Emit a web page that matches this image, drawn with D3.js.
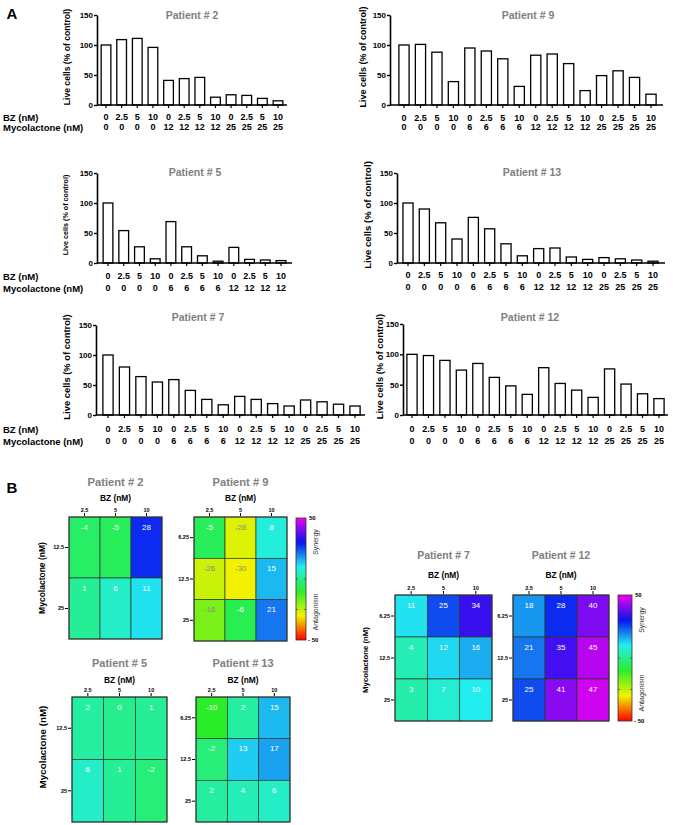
<!DOCTYPE html>
<html><head><meta charset="utf-8">
<script src="https://cdn.jsdelivr.net/npm/d3@7"></script>
<style>body{margin:0;background:#fff} text{font-family:Arial,"Liberation Sans",sans-serif}</style>
</head><body><svg id="c" width="673" height="825"></svg>
<script>
// ---------- data ----------
const bz12 = ["0","2.5","5","10","0","2.5","5","10","0","2.5","5","10"];
const bz16 = ["0","2.5","5","10","0","2.5","5","10","0","2.5","5","10","0","2.5","5","10"];
const mycoP2 = ["0","0","0","0","12","12","12","12","25","25","25","25"];
const mycoP5 = ["0","0","0","0","6","6","6","6","12","12","12","12"];
const myco16 = ["0","0","0","0","6","6","6","6","12","12","12","12","25","25","25","25"];
const liveP2 = [100,109,111,96,41,44,46,13,17,16,11,7];
const liveP9 = [100,101,88,39,95,90,77,31,83,85,69,24,49,57,46,18];
const liveP5 = [100,54,27,7,69,27,12,3,26,6,5,4];
const liveP13 = [100,90,67,40,76,57,32,12,24,25,10,6,9,7,5,3];
const liveP7 = [100,80,64,55,59,41,26,17,31,26,19,15,25,22,18,15];
const liveP12 = [100,98,90,74,85,62,48,34,78,52,41,29,76,51,35,27];
const yTickVals = [0,50,100,150];

const bzHeat = ["2.5","5","10"];
const mycoRows2 = ["12.5","25"];
const mycoRows3 = ["6.25","12.5","25"];
const synP2 = [-4,-5,28, 1,6,11];
const synP9 = [-5,-28,8, -26,-30,15, -18,-6,21];
const synP5 = [2,0,1, 6,1,-2];
const synP13 = [-10,2,15, -2,13,17, 2,4,6];
const synP7 = [11,25,34, 4,12,16, 3,7,10];
const synP12 = [18,28,40, 21,35,45, 25,41,47];
const colorStops = [-50,-30,-10,10,30,50];
const colorVals = ["#ff0000","#f2f200","#2aee2a","#22eef0","#0a14f0","#f000f0"];

// ---------- setup ----------
const svg = d3.select("#c");
const color = d3.scaleLinear().domain(colorStops).range(colorVals);
const GRAY = "#808080";

function txt(g, x, y, s, o = {}) {
  const t = g.append("text").attr("x", x).attr("y", y).text(s)
    .attr("dominant-baseline", "central")
    .attr("text-anchor", o.anchor || "middle")
    .attr("font-size", o.size || 9)
    .attr("font-weight", o.weight || "bold")
    .attr("fill", o.fill || "#000");
  if (o.rot) t.attr("transform", `rotate(${o.rot},${x},${y})`);
  return t;
}

txt(svg, 12, 13, "A", {size: 15, anchor: "middle"});
txt(svg, 12, 487, "B", {size: 15, anchor: "middle"});

function barChart(c) {
  const g = svg.append("g");
  const n = c.vals.length;
  const step = (c.last - c.first) / (n - 1);
  const x = d3.scaleBand().domain(d3.range(n))
    .range([c.first - step / 2, c.last + step / 2])
    .paddingInner(0.38).paddingOuter(0.19);
  const y = d3.scaleLinear().domain([0, 150]).range([c.y0, c.y150]);

  g.selectAll("rect.bar").data(c.vals).join("rect").attr("class", "bar")
    .attr("x", (d, i) => x(i)).attr("width", x.bandwidth())
    .attr("y", d => y(d)).attr("height", d => c.y0 - y(d))
    .attr("fill", "#fff").attr("stroke", "#000").attr("stroke-width", 1.3);

  const ya = g.append("g").attr("transform", `translate(${c.axisX},0)`)
    .call(d3.axisLeft(y).tickValues(yTickVals).tickSize(3).tickSizeOuter(0));
  ya.select(".domain").attr("stroke-width", 1.6);
  ya.selectAll(".tick line").attr("stroke-width", 1.4);
  ya.selectAll(".tick text").attr("font-size", 8).attr("font-weight", "bold")
    .attr("font-family", "Arial, Liberation Sans").attr("x", -4);

  const xa = g.append("g").attr("transform", `translate(0,${c.y0})`)
    .call(d3.axisBottom(x).tickSize(3).tickSizeOuter(0).tickFormat(""));
  xa.select(".domain").attr("d", `M${c.axisX},0H${c.end}`).attr("stroke-width", 1.6);
  xa.selectAll(".tick line").attr("stroke-width", 1.2);

  c.vals.forEach((v, i) => {
    const cx = x(i) + x.bandwidth() / 2;
    txt(g, cx, c.row1, c.bz[i], {size: 9});
    txt(g, cx, c.row2, c.myco[i], {size: 9});
  });
  if (c.rowLabels) {
    txt(g, 3, c.row1, "BZ (nM)", {size: 9.5, anchor: "start"});
    txt(g, 3, c.row2, "Mycolactone (nM)", {size: 9.5, anchor: "start"});
  }
  txt(g, c.titleX, c.titleY, c.title, {size: 10.5, fill: GRAY});
  txt(g, c.ylabX, (c.y0 + c.y150) / 2 - 3, "Live cells (% of control)", {size: c.ylabSize, rot: -90});
}

barChart({vals: liveP2, bz: bz12, myco: mycoP2, axisX: 97, y0: 105, y150: 15, first: 106, last: 278, end: 287,
  title: "Patient # 2", titleX: 192, titleY: 15, ylabX: 67, ylabSize: 8.6, row1: 117, row2: 127, rowLabels: true});
barChart({vals: liveP9, bz: bz16, myco: myco16, axisX: 390, y0: 105, y150: 15, first: 404, last: 651, end: 663,
  title: "Patient # 9", titleX: 528, titleY: 15, ylabX: 363, ylabSize: 9, row1: 118, row2: 127});
barChart({vals: liveP5, bz: bz12, myco: mycoP5, axisX: 97, y0: 263, y150: 173, first: 108, last: 281, end: 292,
  title: "Patient # 5", titleX: 195, titleY: 172, ylabX: 65, ylabSize: 7.2, row1: 276, row2: 288, rowLabels: true});
barChart({vals: liveP13, bz: bz16, myco: myco16, axisX: 397, y0: 263, y150: 173, first: 408, last: 653, end: 665,
  title: "Patient # 13", titleX: 532, titleY: 172, ylabX: 367, ylabSize: 9.6, row1: 275, row2: 287});
barChart({vals: liveP7, bz: bz16, myco: myco16, axisX: 96, y0: 415, y150: 325, first: 108, last: 355, end: 365,
  title: "Patient # 7", titleX: 198, titleY: 317, ylabX: 66, ylabSize: 9.4, row1: 429, row2: 441, rowLabels: true});
barChart({vals: liveP12, bz: bz16, myco: myco16, axisX: 403, y0: 415, y150: 324, first: 412, last: 659, end: 668,
  title: "Patient # 12", titleX: 530, titleY: 317, ylabX: 379, ylabSize: 9.4, row1: 429, row2: 441});

// ---------- heatmaps ----------
function heatmap(c) {
  const g = svg.append("g");
  const x = d3.scaleBand().domain(bzHeat).range([c.x0, c.x1]);
  const y = d3.scaleBand().domain(c.rows).range([c.yTop, c.yBot]);
  const cells = [];
  c.rows.forEach((r, ri) => bzHeat.forEach((b, bi) => cells.push({r, b, v: c.vals[ri * 3 + bi]})));
  g.selectAll("rect").data(cells).join("rect")
    .attr("x", d => x(d.b)).attr("y", d => y(d.r))
    .attr("width", x.bandwidth()).attr("height", y.bandwidth())
    .attr("fill", d => color(d.v)).attr("stroke", "#2a3a2a").attr("stroke-width", 0.7);
  g.append("rect").attr("x", c.x0).attr("y", c.yTop).attr("width", c.x1 - c.x0).attr("height", c.yBot - c.yTop)
    .attr("fill", "none").attr("stroke", "#333").attr("stroke-width", 1);
  cells.forEach(d => {
    txt(g, x(d.b) + x.bandwidth() / 2, y(d.r) + 10, d.v, {size: 8, weight: "normal",
      fill: d.v < -15 ? "#8a8a8a" : "#fff"});
  });
  const ta = g.append("g").attr("transform", `translate(0,${c.yTop - 1})`)
    .call(d3.axisTop(x).tickSize(3).tickSizeOuter(0));
  ta.select(".domain").remove();
  ta.selectAll(".tick text").attr("font-size", 5.5).attr("font-weight", "bold").attr("y", -4);
  const la = g.append("g").attr("transform", `translate(${c.x0 - 1},0)`)
    .call(d3.axisLeft(y).tickSize(3).tickSizeOuter(0));
  la.select(".domain").remove();
  la.selectAll(".tick text").attr("font-size", 5.5).attr("font-weight", "bold").attr("x", -4);
  txt(g, (c.x0 + c.x1) / 2, c.titleY, c.title, {size: c.titleSize, fill: GRAY});
  txt(g, (c.x0 + c.x1) / 2, c.bzY, "BZ (nM)", {size: 8.4});
  if (c.mycoX) txt(g, c.mycoX, c.mycoY, "Mycolactone (nM)", {size: c.mycoSize, rot: -90});
}

function colorBar(c) {
  const g = svg.append("g");
  const id = "grad" + c.id;
  const lg = svg.append("defs").append("linearGradient").attr("id", id)
    .attr("x1", 0).attr("x2", 0).attr("y1", 1).attr("y2", 0);
  colorStops.forEach((s, i) => lg.append("stop").attr("offset", (s + 50) / 100).attr("stop-color", colorVals[i]));
  g.append("rect").attr("x", c.x0).attr("y", c.y0).attr("width", c.x1 - c.x0).attr("height", c.y1 - c.y0)
    .attr("fill", `url(#${id})`).attr("stroke", "#333").attr("stroke-width", 0.8);
  const s = d3.scaleLinear().domain([-50, 50]).range([c.y1, c.y0]);
  [-25, 0, 25].forEach(v => {
    g.append("line").attr("x1", c.x0).attr("x2", c.x0 + 2).attr("y1", s(v)).attr("y2", s(v)).attr("stroke", "#333").attr("stroke-width", 0.6);
    g.append("line").attr("x1", c.x1 - 2).attr("x2", c.x1).attr("y1", s(v)).attr("y2", s(v)).attr("stroke", "#333").attr("stroke-width", 0.6);
  });
  txt(g, c.x1 + 3, s(50), "50", {size: 6, anchor: "start"});
  txt(g, c.x1 + 2, s(-50), "- 50", {size: 6, anchor: "start"});
  txt(g, c.x1 + 9, c.synY, "Synergy", {size: 7, weight: "normal", rot: -90, fill: "#333"});
  txt(g, c.x1 + 9, c.antY, "Antagonism", {size: 7, weight: "normal", rot: -90, fill: "#333"});
}

heatmap({vals: synP2, rows: mycoRows2, x0: 69, x1: 162, yTop: 517, yBot: 639, title: "Patient # 2", titleY: 482, titleSize: 11.2,
  bzY: 498, mycoX: 42, mycoY: 578, mycoSize: 8.5});
heatmap({vals: synP9, rows: mycoRows3, x0: 194, x1: 287, yTop: 517, yBot: 641, title: "Patient # 9", titleY: 482, titleSize: 11.2,
  bzY: 498});
colorBar({id: 1, x0: 296, x1: 306, y0: 518, y1: 640, synY: 542, antY: 612});

heatmap({vals: synP5, rows: mycoRows2, x0: 72, x1: 167, yTop: 697, yBot: 822, title: "Patient # 5", titleY: 663, titleSize: 11,
  bzY: 680, mycoX: 42, mycoY: 747, mycoSize: 9.8});
heatmap({vals: synP13, rows: mycoRows3, x0: 196, x1: 290, yTop: 697, yBot: 822, title: "Patient # 13", titleY: 663, titleSize: 11,
  bzY: 680});

heatmap({vals: synP7, rows: mycoRows3, x0: 395, x1: 492, yTop: 595, yBot: 721, title: "Patient # 7", titleY: 555, titleSize: 10.5,
  bzY: 575, mycoX: 365, mycoY: 660, mycoSize: 7.8});
heatmap({vals: synP12, rows: mycoRows3, x0: 513, x1: 609, yTop: 595, yBot: 721, title: "Patient # 12", titleY: 555, titleSize: 10.5,
  bzY: 575});
colorBar({id: 2, x0: 618, x1: 632, y0: 595, y1: 721, synY: 620, antY: 693});
</script></body></html>
